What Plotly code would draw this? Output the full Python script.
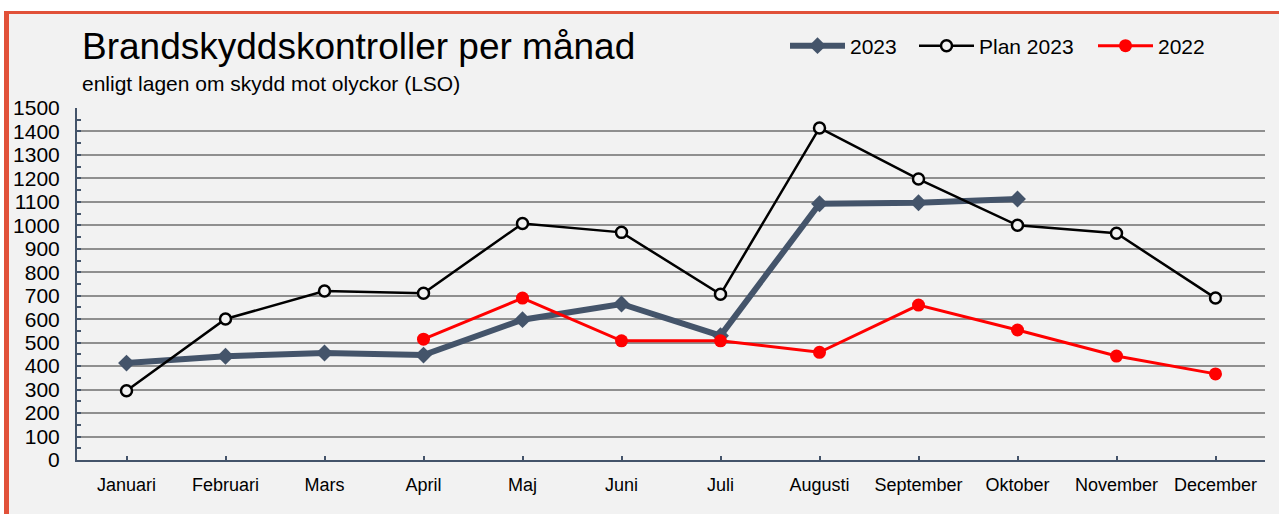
import plotly.graph_objects as go

months = ["Januari", "Februari", "Mars", "April", "Maj", "Juni", "Juli",
          "Augusti", "September", "Oktober", "November", "December"]
v2023 = [413, 442, 456, 447, 598, 665, 530, 1092, 1096, 1112, None, None]
plan2023 = [295, 601, 720, 711, 1008, 970, 706, 1415, 1197, 1000, 966, 690]
v2022 = [None, None, None, 515, 690, 508, 508, 459, 660, 554, 443, 367]
y_ticks = list(range(0, 1501, 100))

BG = "#f2f2f2"
SLATE = "#44546a"
BORDER = "#E15139"

x = list(range(len(months)))

L, R, T, B = 77, 14, 108, 54
W, H = 1279, 514
pw, ph = W - L - R, H - T - B


def px(xp):
    return (xp - L) / pw


def py(yp):
    return (H - B - yp) / ph


fig = go.Figure()
fig.add_trace(go.Scatter(
    x=x, y=v2023, name="2023", mode="lines+markers", legend="legend",
    line=dict(color=SLATE, width=6),
    marker=dict(symbol="diamond", size=13, color=SLATE),
))
fig.add_trace(go.Scatter(
    x=x, y=plan2023, name="Plan 2023", mode="lines+markers", legend="legend2",
    line=dict(color="black", width=2.5),
    marker=dict(symbol="circle", size=11, color=BG, line=dict(color="black", width=2.5)),
))
fig.add_trace(go.Scatter(
    x=x, y=v2022, name="2022", mode="lines+markers", legend="legend3",
    line=dict(color="#ff0000", width=3),
    marker=dict(symbol="circle", size=13, color="#ff0000"),
))

shapes = [
    dict(type="rect", xref="paper", yref="paper", x0=px(0), x1=px(W), y0=py(11), y1=py(0),
         fillcolor="white", line_width=0, layer="below"),
    dict(type="rect", xref="paper", yref="paper", x0=px(0), x1=px(4), y0=py(H), y1=py(0),
         fillcolor="white", line_width=0, layer="below"),
    dict(type="rect", xref="paper", yref="paper", x0=px(4), x1=px(W), y0=py(14), y1=py(11),
         fillcolor=BORDER, line_width=0, layer="below"),
    dict(type="rect", xref="paper", yref="paper", x0=px(4), x1=px(9), y0=py(H), y1=py(11),
         fillcolor=BORDER, line_width=0, layer="below"),
]

annotations = [
    dict(text="Brandskyddskontroller per månad", xref="paper", yref="paper",
         x=px(80), y=py(46), xanchor="left", yanchor="middle", showarrow=False,
         font=dict(family="Liberation Sans, Arial", size=37, color="black")),
    dict(text="enligt lagen om skydd mot olyckor (LSO)", xref="paper", yref="paper",
         x=px(80), y=py(83), xanchor="left", yanchor="middle", showarrow=False,
         font=dict(family="Liberation Sans, Arial", size=21, color="black")),
]


def leg(xpix):
    return dict(orientation="h", x=px(xpix), y=py(46), xanchor="left", yanchor="middle",
                font=dict(size=21), itemwidth=55, bgcolor="rgba(0,0,0,0)")


fig.update_layout(
    width=W, height=H,
    margin=dict(l=L, r=R, t=T, b=B),
    paper_bgcolor=BG, plot_bgcolor=BG,
    font=dict(family="Liberation Sans, Arial", color="black"),
    shapes=shapes, annotations=annotations,
    showlegend=True,
    legend=leg(785), legend2=leg(914), legend3=leg(1093),
    xaxis=dict(
        range=[-0.5, 11.5], tickmode="array", tickvals=x, ticktext=months,
        showgrid=False, zeroline=False, showline=True, linecolor=SLATE, linewidth=2,
        ticks="inside", ticklen=4, tickcolor=SLATE, tickwidth=1.5,
        tickfont=dict(size=18), ticklabelstandoff=7,
    ),
    yaxis=dict(
        range=[0, 1500], tickmode="array", tickvals=y_ticks,
        showgrid=True, gridcolor="#8f8f8f", gridwidth=2, zeroline=False,
        showline=True, linecolor=SLATE, linewidth=2,
        ticks="inside", ticklen=4, tickcolor=SLATE, tickwidth=1.5,
        minor=dict(dtick=50, tick0=0, ticks="inside", ticklen=4, tickcolor=SLATE, showgrid=False),
        tickfont=dict(size=21), ticklabelstandoff=11,
    ),
)

fig.write_html("out.html", config={"displayModeBar": False},
               post_script="document.body.style.margin='0';document.body.style.overflow='hidden';")
